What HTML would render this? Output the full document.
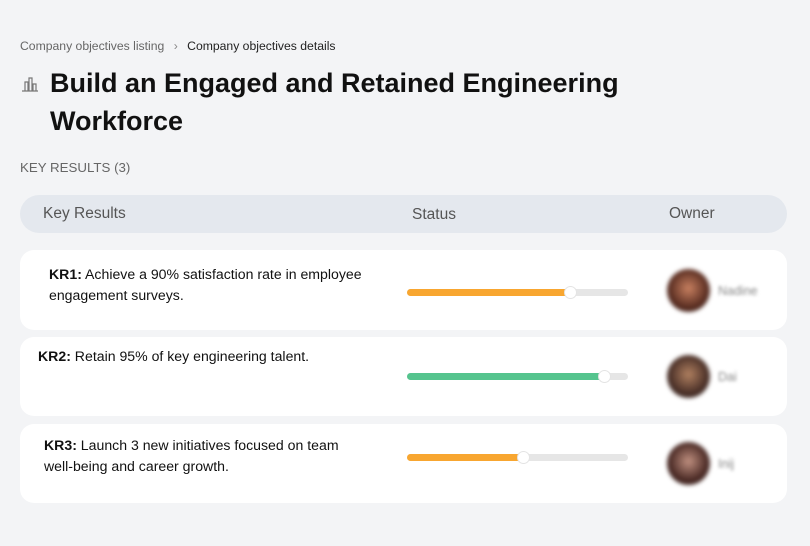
<!DOCTYPE html>
<html><head><style>
*{margin:0;padding:0;box-sizing:border-box}
body{width:810px;height:546px;background:#f3f4f6;font-family:"Liberation Sans",sans-serif;position:relative;overflow:hidden;color:#111}
.a{position:absolute}
.row{position:absolute;left:20px;width:767px;background:#fff;border-radius:14px}
.txt{position:absolute;font-size:14.1px;line-height:21px;color:#111}
.track{position:absolute;left:387px;width:221px;height:7px;border-radius:4px;background:#e6e6e6}
.fill{position:absolute;left:0;top:0;height:7px;border-radius:4px}
.knob{position:absolute;top:-3px;width:13px;height:13px;border-radius:50%;background:#fff;border:1px solid #e4e4e4}
.av{position:absolute;left:647px;width:43px;height:43px;border-radius:50%;filter:blur(2px)}
.nm{position:absolute;left:698px;font-size:12.5px;color:#888;filter:blur(1.5px)}
</style></head><body>
<div class="a" style="left:20px;top:39px;font-size:12.2px;color:#666">Company objectives listing <span style="margin:0 6px;color:#888">›</span> <span style="color:#222">Company objectives details</span></div>
<svg class="a" style="left:21px;top:75px" width="18" height="18" viewBox="0 0 18 18" fill="none" stroke="#777" stroke-width="1.2"><path d="M1 16h16M4 16V7h3v9M8 16V3h3v13M12 16V9h3v7"/></svg>
<div class="a" style="left:50px;top:64px;font-size:27px;font-weight:bold;line-height:38px;color:#111">Build an Engaged and Retained Engineering<br>Workforce</div>
<div class="a" style="left:20px;top:160px;font-size:13.3px;color:#666">KEY RESULTS (3)</div>
<div class="a" style="left:20px;top:195px;width:767px;height:38px;border-radius:19px;background:#e4e8ee;font-size:15.5px;color:#555">
<span class="a" style="left:23px;top:10px">Key Results</span>
<span class="a" style="left:392px;top:11px">Status</span>
<span class="a" style="left:649px;top:10px">Owner</span></div>

<div class="row" style="top:250px;height:80px">
<div class="txt" style="left:29px;top:14px"><b>KR1:</b> Achieve a 90% satisfaction rate in employee<br>engagement surveys.</div>
<div class="track" style="top:39px"><div class="fill" style="width:164px;background:#f8a630"></div><div class="knob" style="left:157px"></div></div>
<div class="av" style="top:19px;background:radial-gradient(circle at 50% 45%,#c88060,#5a2e22 60%,#2a1a18)"></div>
<div class="nm" style="top:34px">Nadine</div>
</div>
<div class="row" style="top:337px;height:79px">
<div class="txt" style="left:18px;top:9px"><b>KR2:</b> Retain 95% of key engineering talent.</div>
<div class="track" style="top:36px"><div class="fill" style="width:198px;background:#55c48e"></div><div class="knob" style="left:191px"></div></div>
<div class="av" style="top:18px;background:radial-gradient(circle at 50% 45%,#b08060,#4a3028 60%,#2a2020)"></div>
<div class="nm" style="top:33px">Dai</div>
</div>
<div class="row" style="top:424px;height:79px">
<div class="txt" style="left:24px;top:11px"><b>KR3:</b> Launch 3 new initiatives focused on team<br>well-being and career growth.</div>
<div class="track" style="top:30px"><div class="fill" style="width:117px;background:#f8a630"></div><div class="knob" style="left:110px"></div></div>
<div class="av" style="top:18px;background:radial-gradient(circle at 50% 45%,#c09080,#4a2a25 60%,#2a1a18)"></div>
<div class="nm" style="top:33px">Inij</div>
</div>
</body></html>
